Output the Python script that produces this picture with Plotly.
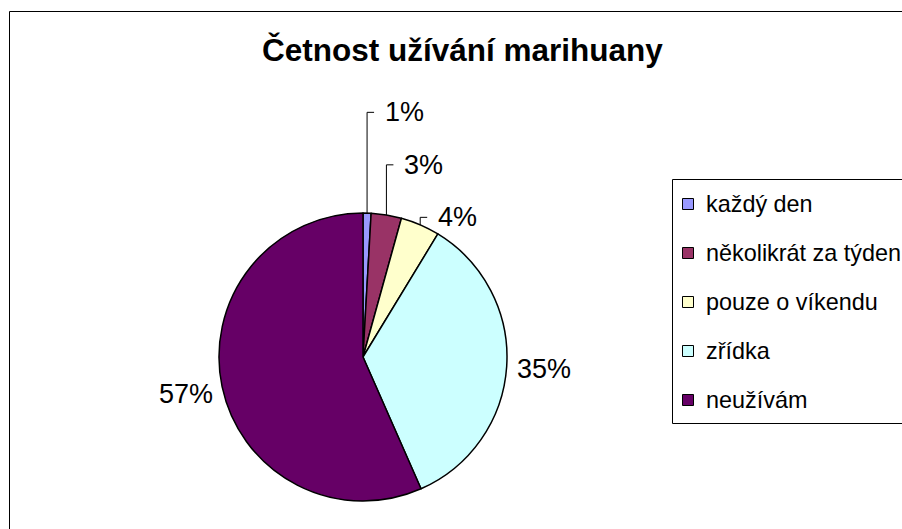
import math
import plotly.graph_objects as go

# ---- data ----
categories = ["každý den", "několikrát za týden", "pouze o víkendu", "zřídka", "neužívám"]
values = [0.9, 3.4, 4.4, 34.7, 56.6]
colors = ["#9999FF", "#993366", "#FFFFCC", "#CCFFFF", "#660066"]
title_text = "Četnost užívání marihuany"

# ---- geometry / style ----
W, H = 902, 529
CX, CY, R = 363, 357, 144
FONT = "Liberation Sans, Arial, sans-serif"


def px(x, y):
    return x / W, 1 - y / H


fig = go.Figure()
fig.add_trace(go.Pie(
    labels=categories, values=values, sort=False, direction="clockwise", rotation=0,
    marker=dict(colors=colors, line=dict(color="black", width=1.5)),
    textinfo="none", showlegend=False, hoverinfo="label+percent",
    domain=dict(x=[(CX - R) / W, (CX + R) / W], y=[1 - (CY + R) / H, 1 - (CY - R) / H]),
))

shapes = []
annotations = []

# outer chart frame
fx0, fy0 = px(9.5, 11.5)
shapes.append(dict(type="rect", xref="paper", yref="paper", x0=fx0, y0=fy0, x1=1.05, y1=-0.05,
                   line=dict(color="black", width=1), fillcolor="rgba(0,0,0,0)", layer="below"))

# title
tx, ty = px(462, 49.5)
annotations.append(dict(text="<b>%s</b>" % title_text, x=tx, y=ty, xref="paper", yref="paper",
                        xanchor="center", yanchor="middle", showarrow=False,
                        font=dict(family=FONT, size=31.5, color="black")))

# data labels
total = sum(values)
cum = 0.0
mids = []
for v in values:
    mids.append((cum + v / 2) / total)
    cum += v
small = [i for i, v in enumerate(values) if v / total < 0.05]
last_small = max(small)
STEP = 52.5
for i, v in enumerate(values):
    th = 2 * math.pi * mids[i]
    s, c = math.sin(th), -math.cos(th)
    txt = "%d%%" % round(v / total * 100)
    if i in small:
        ex, ey = CX + R * s, CY + R * c
        ey_last = CY + R * (-math.cos(2 * math.pi * mids[last_small]))
        ly = ey_last - 7.5 - STEP * (last_small - i)
        a = px(ex, ey)
        b = px(ex, ly)
        d = px(ex + 7, ly)
        shapes.append(dict(type="line", xref="paper", yref="paper", x0=a[0], y0=a[1], x1=b[0], y1=b[1],
                           line=dict(color="black", width=1)))
        shapes.append(dict(type="line", xref="paper", yref="paper", x0=b[0], y0=b[1], x1=d[0], y1=d[1],
                           line=dict(color="black", width=1)))
        lx, lyy = px(ex + 16, ly)
        annotations.append(dict(text=txt, x=lx, y=lyy, xref="paper", yref="paper",
                                xanchor="left", yanchor="middle", showarrow=False,
                                font=dict(family=FONT, size=27, color="black")))
    else:
        lx, lyy = px(CX + (R + 37) * s, CY + (R + 37) * c)
        annotations.append(dict(text=txt, x=lx, y=lyy, xref="paper", yref="paper",
                                xanchor="center", yanchor="middle", showarrow=False,
                                font=dict(family=FONT, size=27, color="black")))

# legend box
lx0, ly0 = px(672.5, 179.5)
lx1, ly1 = px(915, 423.5)
shapes.append(dict(type="rect", xref="paper", yref="paper", x0=lx0, y0=ly0, x1=lx1, y1=ly1,
                   line=dict(color="black", width=1), fillcolor="white"))
for i, (cat, col) in enumerate(zip(categories, colors)):
    yc = 204 + 49 * i
    a = px(682.5, yc - 5.5)
    b = px(693.5, yc + 5.5)
    shapes.append(dict(type="rect", xref="paper", yref="paper", x0=a[0], y0=a[1], x1=b[0], y1=b[1],
                       line=dict(color="black", width=1), fillcolor=col))
    t = px(704, yc)
    annotations.append(dict(text=cat, x=t[0], y=t[1], xref="paper", yref="paper",
                            xanchor="left", yanchor="middle", showarrow=False,
                            font=dict(family=FONT, size=23.4, color="black")))

fig.update_layout(
    width=W, height=H, margin=dict(l=0, r=0, t=0, b=0),
    paper_bgcolor="white", plot_bgcolor="white",
    shapes=shapes, annotations=annotations,
)

fig.write_html(
    "out.html",
    config={"displayModeBar": False},
    post_script="document.body.style.margin='0';document.body.style.overflow='hidden';",
)
